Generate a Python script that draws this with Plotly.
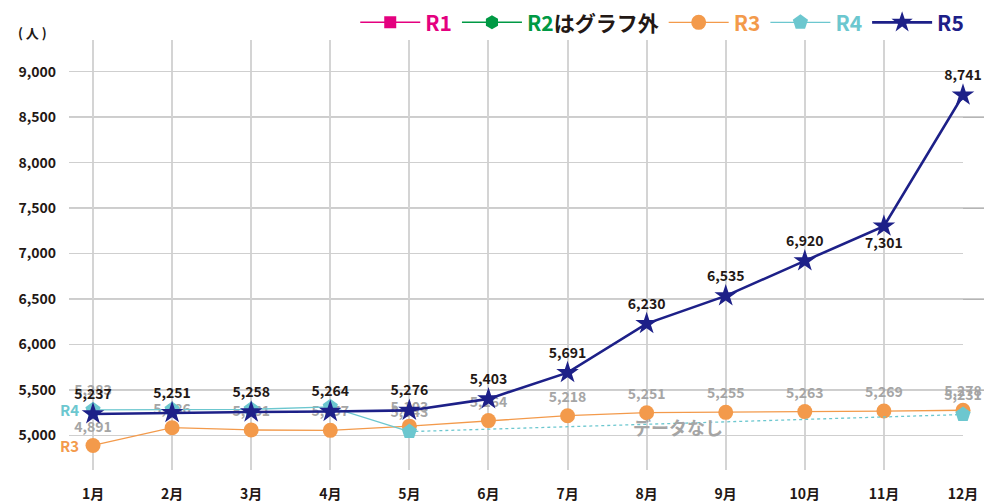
import plotly.graph_objects as go

# ---- data -------------------------------------------------------------
months = ["1月", "2月", "3月", "4月", "5月", "6月", "7月", "8月", "9月", "10月", "11月", "12月"]
r3 = [4891, 5086, 5061, 5057, 5103, 5164, 5218, 5251, 5255, 5263, 5269, 5278]
r4 = [5283, 5286, 5288, 5316, 5043, None, None, None, None, None, None, 5231]
r5 = [5237, 5251, 5258, 5264, 5276, 5403, 5691, 6230, 6535, 6920, 7301, 8741]
r4_labelled = [True, False, False, False, True, False, False, False, False, False, False, True]
r5_label_pos = ["top center"] * 10 + ["bottom center", "top center"]

y_ticks = [5000, 5500, 6000, 6500, 7000, 7500, 8000, 8500, 9000]
dark_grid = [5500, 6500, 7500, 8500]

# ---- styling ----------------------------------------------------------
FONT = "Noto Sans CJK JP"
C_R1 = "#e4007f"
C_R2 = "#009944"
C_R3 = "#f39a4b"
C_R4 = "#6cc7cf"
C_R5 = "#1d2088"
C_TXT = "#231815"
C_GRAY = "#a5a5a5"


def fmt(v):
    return f"{v:,}"


fig = go.Figure()

# legend-only series (not plotted)
fig.add_trace(go.Scatter(
    x=[None], y=[None], mode="lines+markers",
    name=f"<b><span style='color:{C_R1}'>R1</span></b>",
    line=dict(color=C_R1, width=1.5),
    marker=dict(symbol="square", size=12, color=C_R1),
))
fig.add_trace(go.Scatter(
    x=[None], y=[None], mode="lines+markers",
    name=f"<b><span style='color:{C_R2}'>R2</span>はグラフ外</b>",
    line=dict(color=C_R2, width=1.5),
    marker=dict(symbol="hexagon", size=14, color=C_R2),
))

# R3
fig.add_trace(go.Scatter(
    x=months, y=r3, mode="lines+markers+text",
    name=f"<b><span style='color:{C_R3}'>R3</span></b>",
    line=dict(color=C_R3, width=1.3),
    marker=dict(symbol="circle", size=15, color=C_R3),
    text=[fmt(v) for v in r3], textposition="top center",
    textfont=dict(family=FONT, size=14, color=C_GRAY, weight="bold"),
    cliponaxis=False,
))

# R4: dotted connector across the missing months
r4_idx = [i for i, v in enumerate(r4) if v is not None]
gap_from, gap_to = r4_idx[-2], r4_idx[-1]
fig.add_trace(go.Scatter(
    x=[months[gap_from], months[gap_to]], y=[r4[gap_from], r4[gap_to]],
    mode="lines", showlegend=False, hoverinfo="skip",
    line=dict(color=C_R4, width=1.3, dash="dot"),
    cliponaxis=False,
))
fig.add_trace(go.Scatter(
    x=months, y=r4, mode="lines+markers+text",
    name=f"<b><span style='color:{C_R4}'>R4</span></b>",
    line=dict(color=C_R4, width=1.3),
    marker=dict(symbol="pentagon", size=16, color=C_R4),
    text=[fmt(v) if (v is not None and show) else "" for v, show in zip(r4, r4_labelled)],
    textposition="top center",
    textfont=dict(family=FONT, size=14, color=C_GRAY, weight="bold"),
    connectgaps=False, cliponaxis=False,
))

# R5
fig.add_trace(go.Scatter(
    x=months, y=r5, mode="lines+markers+text",
    name=f"<b><span style='color:{C_R5}'>R5</span></b>",
    line=dict(color=C_R5, width=2.6),
    marker=dict(symbol="star", size=17, color=C_R5),
    text=[fmt(v) for v in r5], textposition=r5_label_pos,
    textfont=dict(family=FONT, size=14, color=C_TXT, weight="bold"),
    cliponaxis=False,
))

# darker alternate horizontal grid lines
for g in dark_grid:
    fig.add_shape(type="line", xref="paper", yref="y", x0=0, x1=1.0235, y0=g, y1=g,
                  line=dict(color="#9c9c9c", width=1.3), layer="below")

annotations = [
    dict(text="( 人 )", xref="paper", yref="paper", x=-0.059, y=1.017,
         xanchor="left", yanchor="middle", showarrow=False,
         font=dict(family=FONT, size=13, color=C_TXT, weight="bold")),
    dict(text="R4", xref="x", yref="y", x=months[0], y=r4[0], xshift=-12,
         xanchor="right", yanchor="middle", showarrow=False,
         font=dict(family=FONT, size=15, color=C_R4, weight="bold")),
    dict(text="R3", xref="x", yref="y", x=months[0], y=r3[0], xshift=-12,
         xanchor="right", yanchor="middle", showarrow=False,
         font=dict(family=FONT, size=15, color=C_R3, weight="bold")),
    dict(text="データなし", xref="x", yref="y", x=7.4, y=5090,
         xanchor="center", yanchor="middle", showarrow=False,
         font=dict(family=FONT, size=18, color=C_GRAY, weight="bold")),
]

fig.update_layout(
    width=984, height=504,
    margin=dict(l=69, r=21, t=40, b=34, autoexpand=False),
    paper_bgcolor="white", plot_bgcolor="white",
    font=dict(family=FONT, color=C_TXT),
    showlegend=True,
    legend=dict(
        orientation="h", xref="container", yref="container",
        x=0.985, xanchor="right", y=0.955, yanchor="middle",
        font=dict(family=FONT, size=21, color=C_TXT),
        bgcolor="rgba(0,0,0,0)", itemclick=False, itemdoubleclick=False,
        traceorder="normal", tracegroupgap=0, itemwidth=60,
    ),
    annotations=annotations,
    xaxis=dict(
        type="category", categoryorder="array", categoryarray=months,
        range=[-0.3035, 11.0], automargin=False,
        showgrid=True, gridcolor="#d4d4d4", gridwidth=1.5,
        showline=False, zeroline=False, ticks="",
        ticklabelstandoff=14,
        tickfont=dict(family=FONT, size=14, color=C_TXT, weight="bold"),
    ),
    yaxis=dict(
        range=[4621, 9348], automargin=False,
        tickmode="array", tickvals=y_ticks, ticktext=[fmt(v) for v in y_ticks],
        showgrid=True, gridcolor="#cfcfcf", gridwidth=1.3,
        showline=False, zeroline=False, ticks="",
        ticklabelstandoff=12,
        tickfont=dict(family=FONT, size=14, color=C_TXT, weight="bold"),
    ),
)

fig.write_html("out.html")
